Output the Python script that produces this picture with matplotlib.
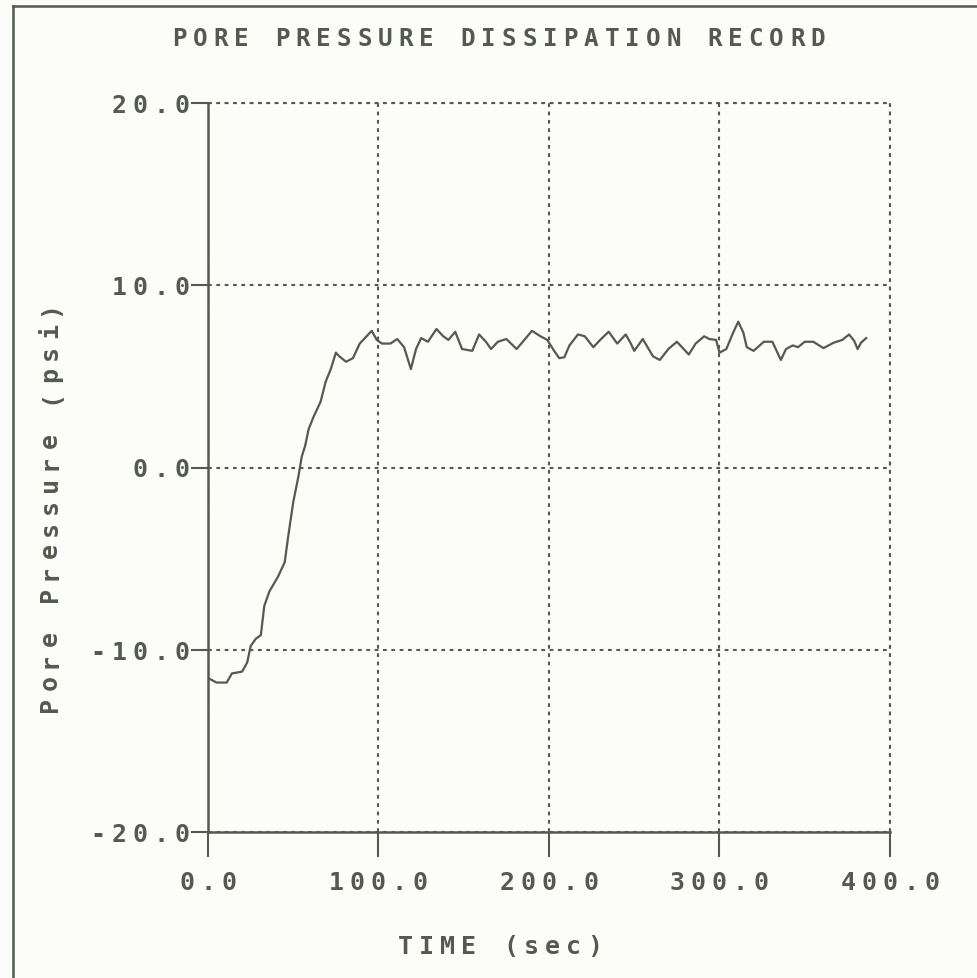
import matplotlib
matplotlib.use("Agg")
import matplotlib.pyplot as plt
from matplotlib.lines import Line2D
from matplotlib.transforms import offset_copy

# readings taken off the dissipation record
time_s = [1, 5, 11, 14, 20, 23, 25, 28, 31, 33, 36, 41, 45, 47, 50, 53, 55, 57, 59, 62,
          66, 69, 72, 75, 77, 81, 85, 89, 93, 96, 99, 102, 107, 111, 115, 119, 122, 125,
          129, 134, 138, 141, 145, 149, 155, 159, 163, 166, 170, 175, 181, 186, 190, 195,
          199, 203, 206, 209, 212, 217, 221, 226, 230, 235, 240, 245, 248, 250, 255, 261,
          265, 270, 275, 282, 286, 291, 294, 298, 300, 304, 308, 311, 314, 316, 320, 326,
          331, 336, 339, 343, 346, 350, 355, 361, 367, 372, 376, 379, 381, 383, 386]
pressure_psi = [-11.6, -11.8, -11.8, -11.3, -11.2, -10.7, -9.8, -9.4, -9.2, -7.6, -6.8,
                -6.0, -5.2, -3.8, -1.9, -0.5, 0.6, 1.2, 2.1, 2.8, 3.6, 4.7, 5.4, 6.3, 6.1,
                5.8, 6.0, 6.8, 7.2, 7.5, 7.0, 6.8, 6.8, 7.05, 6.6, 5.4, 6.5, 7.1, 6.9, 7.6,
                7.2, 7.0, 7.45, 6.5, 6.4, 7.3, 6.9, 6.5, 6.9, 7.05, 6.5, 7.05, 7.5, 7.2,
                7.0, 6.4, 6.0, 6.05, 6.7, 7.3, 7.2, 6.6, 7.0, 7.45, 6.8, 7.3, 6.8, 6.4,
                7.05, 6.1, 5.9, 6.5, 6.9, 6.2, 6.8, 7.2, 7.05, 7.0, 6.3, 6.5, 7.4, 8.0,
                7.4, 6.6, 6.4, 6.9, 6.9, 5.9, 6.5, 6.7, 6.6, 6.9, 6.9, 6.55, 6.85, 7.0,
                7.3, 6.95, 6.5, 6.85, 7.1]

x_ticks = [0, 100, 200, 300, 400]
y_ticks = [-20, -10, 0, 10, 20]
x_tick_labels = ["0.0", "100.0", "200.0", "300.0", "400.0"]
y_tick_labels = ["-20.0", "-10.0", "0.0", "10.0", "20.0"]

title = "PORE PRESSURE DISSIPATION RECORD"
x_label = "TIME (sec)"
y_label = "Pore Pressure (psi)"

INK = "#545a50"
BG = "#fcfcf8"
FONT = dict(family="DejaVu Sans Mono", weight="bold", color=INK)
W, H = 978, 979

fig = plt.figure(figsize=(W / 100, H / 100), dpi=100, facecolor=BG)
ax = fig.add_axes([208 / W, 1 - 833 / H, (890 - 208) / W, (833 - 104) / H])
ax.set_facecolor(BG)

ax.plot(time_s, pressure_psi, color=INK, lw=1.6)

ax.set_xlim(0, 400)
ax.set_ylim(-20, 20)
ax.set_xticks(x_ticks)
ax.set_yticks(y_ticks)
ax.set_xticklabels([])
ax.set_yticklabels([])
ax.tick_params(axis="x", direction="out", length=18, width=1.5, color=INK)
ax.tick_params(axis="y", direction="out", length=12.5, width=1.5, color=INK)
ax.grid(True, color=INK, lw=1.5, linestyle=(0, (1.8, 2.2)))
for side in ["top", "right"]:
    ax.spines[side].set_visible(False)
for side in ["left", "bottom"]:
    ax.spines[side].set_color(INK)
    ax.spines[side].set_linewidth(1.8)
# dotted frame on top and right, like the grid
ax.axhline(20, color=INK, lw=1.5, linestyle=(0, (1.8, 2.2)), clip_on=False)
ax.axvline(400, color=INK, lw=1.5, linestyle=(0, (1.8, 2.2)), clip_on=False)


def spaced(host, trans, x, y, s, pitch, size, first_dx=0.0, first_dy=0.0, step=(1, 0), rot=0):
    # one character per fixed cell, the old plotter font is wide spaced
    for i, ch in enumerate(s):
        if ch == " ":
            continue
        tr = offset_copy(trans, fig=fig, x=first_dx + i * pitch * step[0],
                         y=first_dy + i * pitch * step[1], units="dots")
        host.text(x, y, ch, transform=tr, ha="center", va="baseline", size=size,
                  rotation=rot, rotation_mode="anchor", **FONT)


# tick labels
for xv, lab in zip(x_ticks, x_tick_labels):
    n = len(lab)
    spaced(ax, ax.get_xaxis_transform(), xv, 0, lab, 21, 18,
           first_dx=-(n - 1) * 21 / 2, first_dy=-57)
for yv, lab in zip(y_ticks, y_tick_labels):
    n = len(lab)
    spaced(ax, ax.get_yaxis_transform(), 0, yv, lab, 21, 18,
           first_dx=-26 - (n - 1) * 21, first_dy=-9)

# title and axis labels
spaced(fig, fig.transFigure, 498.5 / W, 1 - 46 / H, title, 20.6, 17.5,
       first_dx=-(len(title) - 1) * 20.6 / 2)
spaced(fig, fig.transFigure, 500 / W, 1 - 954 / H, x_label, 21, 18,
       first_dx=-(len(x_label) - 1) * 21 / 2)
spaced(fig, fig.transFigure, 57 / W, 1 - 506 / H, y_label, 22, 18,
       first_dy=-(len(y_label) - 1) * 22 / 2, step=(0, 1), rot=90)

# outer frame of the printout
fig.add_artist(Line2D([13 / W, 13 / W], [1 - 7 / H, 1 - 978 / H], transform=fig.transFigure,
                      color=INK, lw=1.8))
fig.add_artist(Line2D([13 / W, 1.0], [1 - 7 / H, 1 - 7 / H], transform=fig.transFigure,
                      color=INK, lw=1.8))

fig.savefig("out.png", dpi=100, facecolor=BG)
